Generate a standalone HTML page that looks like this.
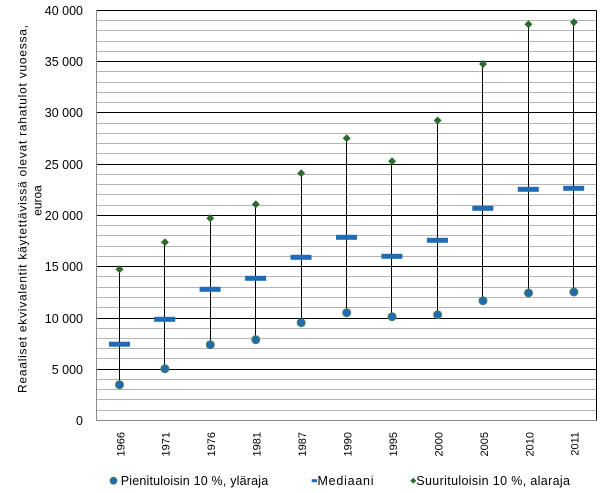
<!DOCTYPE html>
<html>
<head>
<meta charset="utf-8">
<style>
html,body{margin:0;padding:0;background:#fff;}
svg{display:block;}
text{font-family:"Liberation Sans",Arial,sans-serif;fill:#000;}
</style>
</head>
<body>
<svg width="607" height="493" viewBox="0 0 607 493" xmlns="http://www.w3.org/2000/svg">
<rect x="0" y="0" width="607" height="493" fill="#fff"/>
<!-- minor gridlines -->
<path stroke="#b4b4b4" stroke-width="1" fill="none" shape-rendering="crispEdges" d="
M96.5 410.5H596.5 M96.5 399.5H596.5 M96.5 389.5H596.5 M96.5 379.5H596.5
M96.5 358.5H596.5 M96.5 348.5H596.5 M96.5 338.5H596.5 M96.5 328.5H596.5
M96.5 307.5H596.5 M96.5 297.5H596.5 M96.5 287.5H596.5 M96.5 276.5H596.5
M96.5 256.5H596.5 M96.5 246.5H596.5 M96.5 235.5H596.5 M96.5 225.5H596.5
M96.5 205.5H596.5 M96.5 194.5H596.5 M96.5 184.5H596.5 M96.5 174.5H596.5
M96.5 153.5H596.5 M96.5 143.5H596.5 M96.5 133.5H596.5 M96.5 123.5H596.5
M96.5 102.5H596.5 M96.5 92.5H596.5 M96.5 82.5H596.5 M96.5 71.5H596.5
M96.5 51.5H596.5 M96.5 41.5H596.5 M96.5 30.5H596.5 M96.5 20.5H596.5"/>
<!-- major gridlines -->
<path stroke="#000" stroke-width="1" fill="none" shape-rendering="crispEdges" d="
M96.5 369.5H596.5 M96.5 318.5H596.5 M96.5 266.5H596.5 M96.5 215.5H596.5
M96.5 164.5H596.5 M96.5 112.5H596.5 M96.5 61.5H596.5 M96.5 10.5H596.5
M596.5 10.5V420.5"/>
<!-- axes -->
<path stroke="#8a8a8a" stroke-width="1" fill="none" shape-rendering="crispEdges" d="M96.5 10.5V420.5 M96.5 420.5H596.5"/>

<!-- y tick labels -->
<g font-size="12.5" text-anchor="end">
<text x="83" y="425">0</text>
<text x="83" y="374">5 000</text>
<text x="83" y="323">10 000</text>
<text x="83" y="271">15 000</text>
<text x="83" y="220">20 000</text>
<text x="83" y="169">25 000</text>
<text x="83" y="117">30 000</text>
<text x="83" y="66">35 000</text>
<text x="83" y="15">40 000</text>
</g>

<!-- y axis title -->
<text transform="translate(26.5,209) rotate(-90)" font-size="12" text-anchor="middle" textLength="368" lengthAdjust="spacing">Reaaliset ekvivalentit käytettävissä olevat rahatulot vuoessa,</text>
<text transform="translate(41.5,200.5) rotate(-90)" font-size="12" text-anchor="middle">euroa</text>

<!-- vertical hi-lo lines -->
<path stroke="#000" stroke-width="1" fill="none" shape-rendering="crispEdges" d="
M119.5 269V385 M164.5 242V369 M210.5 218V345 M255.5 204V340 M301.5 173V323
M346.5 138V313 M391.5 161V317 M437.5 120V315 M482.5 64V301 M528.5 24V293 M573.5 22V292"/>

<!-- median bars -->
<g fill="#1f6bb5">
<rect x="109" y="341.7" width="21" height="5"/>
<rect x="154.2" y="316.8" width="21" height="5"/>
<rect x="199.6" y="286.8" width="21" height="5"/>
<rect x="245.1" y="275.8" width="21" height="5"/>
<rect x="290.5" y="254.8" width="21" height="5"/>
<rect x="336" y="234.8" width="21" height="5"/>
<rect x="381.4" y="253.8" width="21" height="5"/>
<rect x="426.9" y="237.8" width="21" height="5"/>
<rect x="472.3" y="205.8" width="21" height="5"/>
<rect x="517.8" y="186.8" width="21" height="5"/>
<rect x="563.2" y="185.8" width="21" height="5"/>
</g>

<!-- low markers (circles) -->
<g fill="#1f6bb5" stroke="#4f7f4f" stroke-width="1">
<circle cx="119.5" cy="384.7" r="4"/>
<circle cx="164.9" cy="368.7" r="4"/>
<circle cx="210.3" cy="344.7" r="4"/>
<circle cx="255.8" cy="339.7" r="4"/>
<circle cx="301.2" cy="322.7" r="4"/>
<circle cx="346.7" cy="312.7" r="4"/>
<circle cx="392.1" cy="316.7" r="4"/>
<circle cx="437.6" cy="314.7" r="4"/>
<circle cx="483" cy="300.7" r="4"/>
<circle cx="528.5" cy="293" r="4"/>
<circle cx="573.9" cy="292" r="4"/>
</g>

<!-- high markers (diamonds) -->
<g fill="#2d6a2d">
<path d="M119.5 265.3L123.5 269.3L119.5 273.3L115.5 269.3Z"/>
<path d="M164.9 238.3L168.9 242.3L164.9 246.3L160.9 242.3Z"/>
<path d="M210.3 214.3L214.3 218.3L210.3 222.3L206.3 218.3Z"/>
<path d="M255.8 200.3L259.8 204.3L255.8 208.3L251.8 204.3Z"/>
<path d="M301.2 169.3L305.2 173.3L301.2 177.3L297.2 173.3Z"/>
<path d="M346.7 134.3L350.7 138.3L346.7 142.3L342.7 138.3Z"/>
<path d="M392.1 157.3L396.1 161.3L392.1 165.3L388.1 161.3Z"/>
<path d="M437.6 116.5L441.6 120.5L437.6 124.5L433.6 120.5Z"/>
<path d="M483 60L487 64L483 68L479 64Z"/>
<path d="M528.5 20.3L532.5 24.3L528.5 28.3L524.5 24.3Z"/>
<path d="M573.9 18.3L577.9 22.3L573.9 26.3L569.9 22.3Z"/>
</g>

<!-- x labels -->
<g font-size="11" text-anchor="end">
<text transform="translate(124.3,432) rotate(-90)">1966</text>
<text transform="translate(169.7,432) rotate(-90)">1971</text>
<text transform="translate(215.1,432) rotate(-90)">1976</text>
<text transform="translate(260.6,432) rotate(-90)">1981</text>
<text transform="translate(306,432) rotate(-90)">1987</text>
<text transform="translate(351.5,432) rotate(-90)">1990</text>
<text transform="translate(396.9,432) rotate(-90)">1995</text>
<text transform="translate(442.4,432) rotate(-90)">2000</text>
<text transform="translate(487.8,432) rotate(-90)">2005</text>
<text transform="translate(533.3,432) rotate(-90)">2010</text>
<text transform="translate(578.7,432) rotate(-90)">2011</text>
</g>

<!-- legend -->
<circle cx="113.5" cy="480.7" r="3.5" fill="#1f6bb5" stroke="#4f7f4f" stroke-width="0.8"/>
<text x="120.7" y="485" font-size="12.5" textLength="147.5" lengthAdjust="spacing">Pienituloisin 10 %, yläraja</text>
<rect x="311.7" y="479.2" width="5.3" height="3" fill="#1f6bb5"/>
<text x="317.5" y="485" font-size="12.5" textLength="56" lengthAdjust="spacing">Mediaani</text>
<path d="M413.3 477.7L416.3 480.7L413.3 483.7L410.3 480.7Z" fill="#2d6a2d"/>
<text x="416.3" y="485" font-size="12.5" textLength="153.7" lengthAdjust="spacing">Suurituloisin 10 %, alaraja</text>
</svg>
</body>
</html>
